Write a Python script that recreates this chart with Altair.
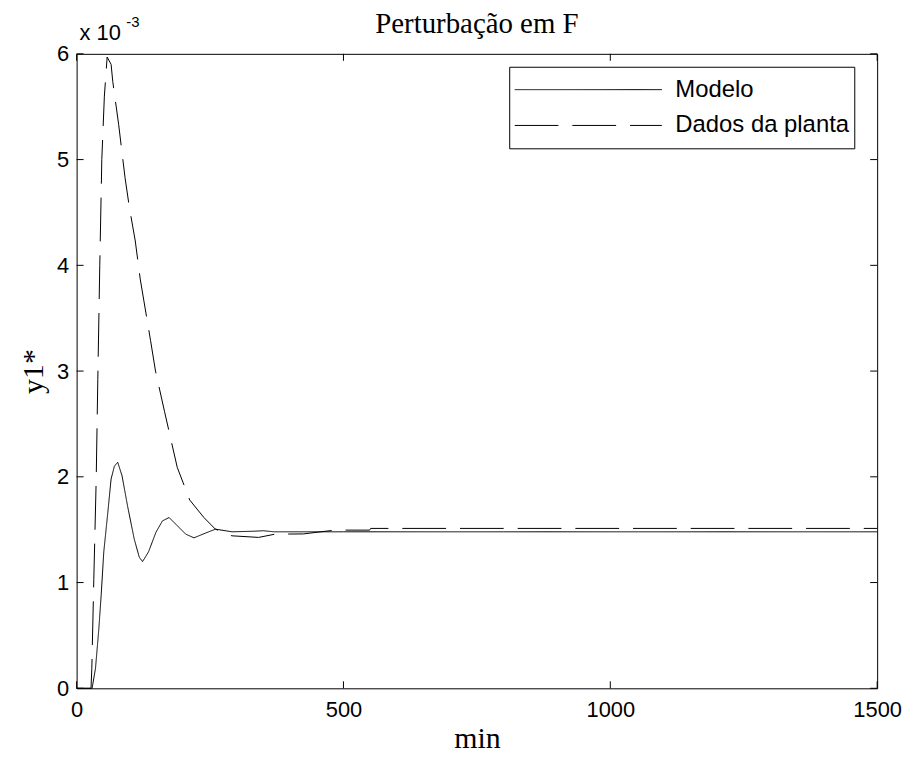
import altair as alt
import pandas as pd

# ---- data (y in units of 1e-3) ----
t_modelo = [0, 29, 35.4, 41.6, 46, 50.9, 58.4, 64.6, 70.8, 77, 85.1, 95.6, 108, 117.4,
            123.5, 134.7, 148.5, 160.8, 173.3, 185.8, 204.4, 219.9, 241.6, 260.3, 291.2,
            330, 350, 370, 400, 500, 800, 1200, 1500]
y_modelo = [0, 0, 0.19, 0.56, 0.88, 1.29, 1.66, 1.98, 2.10, 2.138, 2.01, 1.72, 1.41, 1.24,
            1.198, 1.29, 1.474, 1.583, 1.615, 1.552, 1.458, 1.423, 1.468, 1.505, 1.48,
            1.485, 1.49, 1.48, 1.48, 1.48, 1.48, 1.48, 1.48]

t_planta = [0, 27, 28.5, 32.2, 36.7, 39.7, 43.4, 47.2, 52, 57.2, 64.6, 67.7, 78.8, 90.7,
            98.8, 109.9, 119.2, 138.5, 147.8, 164.6, 188.5, 212, 238.5, 260, 291, 341,
            372, 425, 484, 549, 551, 800, 1200, 1500]
y_planta = [0, 0, 0.19, 1.03, 1.98, 2.92, 4.0, 5.0, 5.6, 5.97, 5.9, 5.74, 5.33, 4.83,
            4.55, 4.23, 3.87, 3.29, 3.0, 2.62, 2.09, 1.78, 1.615, 1.505, 1.442, 1.427,
            1.458, 1.46, 1.496, 1.496, 1.512, 1.512, 1.512, 1.512]

series = ["Modelo", "Dados da planta"]
x_ticks = [0, 500, 1000, 1500]
y_ticks = [0, 1, 2, 3, 4, 5, 6]
titulo = "Perturbação em F"

df = pd.concat([
    pd.DataFrame({"t": t_modelo, "y": y_modelo, "serie": series[0], "ord": range(len(t_modelo))}),
    pd.DataFrame({"t": t_planta, "y": y_planta, "serie": series[1], "ord": range(len(t_planta))}),
])

W, H = 805, 638
SANS = "Liberation Sans"
SERIF = "Liberation Serif"

xscale = alt.Scale(domain=[0, 1500], nice=False, zero=False)
yscale = alt.Scale(domain=[0, 6], nice=False, zero=False)

lines = alt.Chart(df).mark_line(color="black", strokeWidth=1).encode(
    x=alt.X("t:Q", scale=xscale,
            axis=alt.Axis(values=x_ticks, format="d", title="min", titleFont=SERIF, titleFontSize=30,
                          titleFontWeight="normal", titleColor="black", titlePadding=4,
                          labelFont=SANS, labelFontSize=22, labelColor="black",
                          labelPadding=11, tickSize=0, domain=False, grid=False,
                          labelFlush=False)),
    y=alt.Y("y:Q", scale=yscale,
            axis=alt.Axis(values=y_ticks, format="d", title="y1*", titleFont=SERIF, titleFontSize=30,
                          titleFontWeight="normal", titleColor="black", titlePadding=8,
                          labelFont=SANS, labelFontSize=22, labelColor="black",
                          labelPadding=8, tickSize=0, domain=False, grid=False,
                          labelFlush=False)),
    strokeDash=alt.StrokeDash("serie:N",
                              scale=alt.Scale(domain=series, range=[[1, 0], [44, 14]]),
                              legend=alt.Legend(title=None, orient="none", legendX=435, legendY=13,
                                                strokeColor="black", fillColor="white",
                                                padding=5, symbolType="stroke",
                                                symbolSize=148 * 148, symbolStrokeWidth=1,
                                                symbolStrokeColor="black",
                                                labelFont=SANS, labelFontSize=24,
                                                labelColor="black", labelOffset=13,
                                                labelLimit=400,
                                                clipHeight=36, rowPadding=0,
                                                cornerRadius=0)),
    detail="serie:N",
    order="ord:Q",
)

xt = pd.DataFrame({"v": x_ticks})
yt = pd.DataFrame({"v": y_ticks})
tick_bottom = alt.Chart(xt).mark_rule(color="black", strokeWidth=1).encode(
    x=alt.X("v:Q", scale=xscale), y=alt.value(H), y2=alt.value(H - 7))
tick_top = alt.Chart(xt).mark_rule(color="black", strokeWidth=1).encode(
    x=alt.X("v:Q", scale=xscale), y=alt.value(0), y2=alt.value(7))
tick_left = alt.Chart(yt).mark_rule(color="black", strokeWidth=1).encode(
    y=alt.Y("v:Q", scale=yscale), x=alt.value(0), x2=alt.value(7))
tick_right = alt.Chart(yt).mark_rule(color="black", strokeWidth=1).encode(
    y=alt.Y("v:Q", scale=yscale), x=alt.value(W), x2=alt.value(W - 7))

mult = alt.Chart(pd.DataFrame({"s": ["x 10"]})).mark_text(
    font=SANS, fontSize=22, color="black", align="left", baseline="alphabetic"
).encode(text="s:N", x=alt.value(3), y=alt.value(-14))
mult_exp = alt.Chart(pd.DataFrame({"s": ["-3"]})).mark_text(
    font=SANS, fontSize=15, color="black", align="left", baseline="alphabetic"
).encode(text="s:N", x=alt.value(50), y=alt.value(-27))
title_txt = alt.Chart(pd.DataFrame({"s": [titulo]})).mark_text(
    font=SERIF, fontSize=29, color="black", align="center", baseline="alphabetic"
).encode(text="s:N", x=alt.value(W / 2), y=alt.value(-21))

chart = alt.layer(lines, tick_bottom, tick_top, tick_left, tick_right,
                  mult, mult_exp, title_txt).properties(
    width=W, height=H,
    autosize=alt.AutoSizeParams(type="none"),
    padding={"left": 69, "top": 44, "right": 28, "bottom": 70},
).configure(background="white").configure_view(stroke="black", strokeWidth=1)

chart.save("out.html", embed_options={"renderer": "svg", "actions": False})
